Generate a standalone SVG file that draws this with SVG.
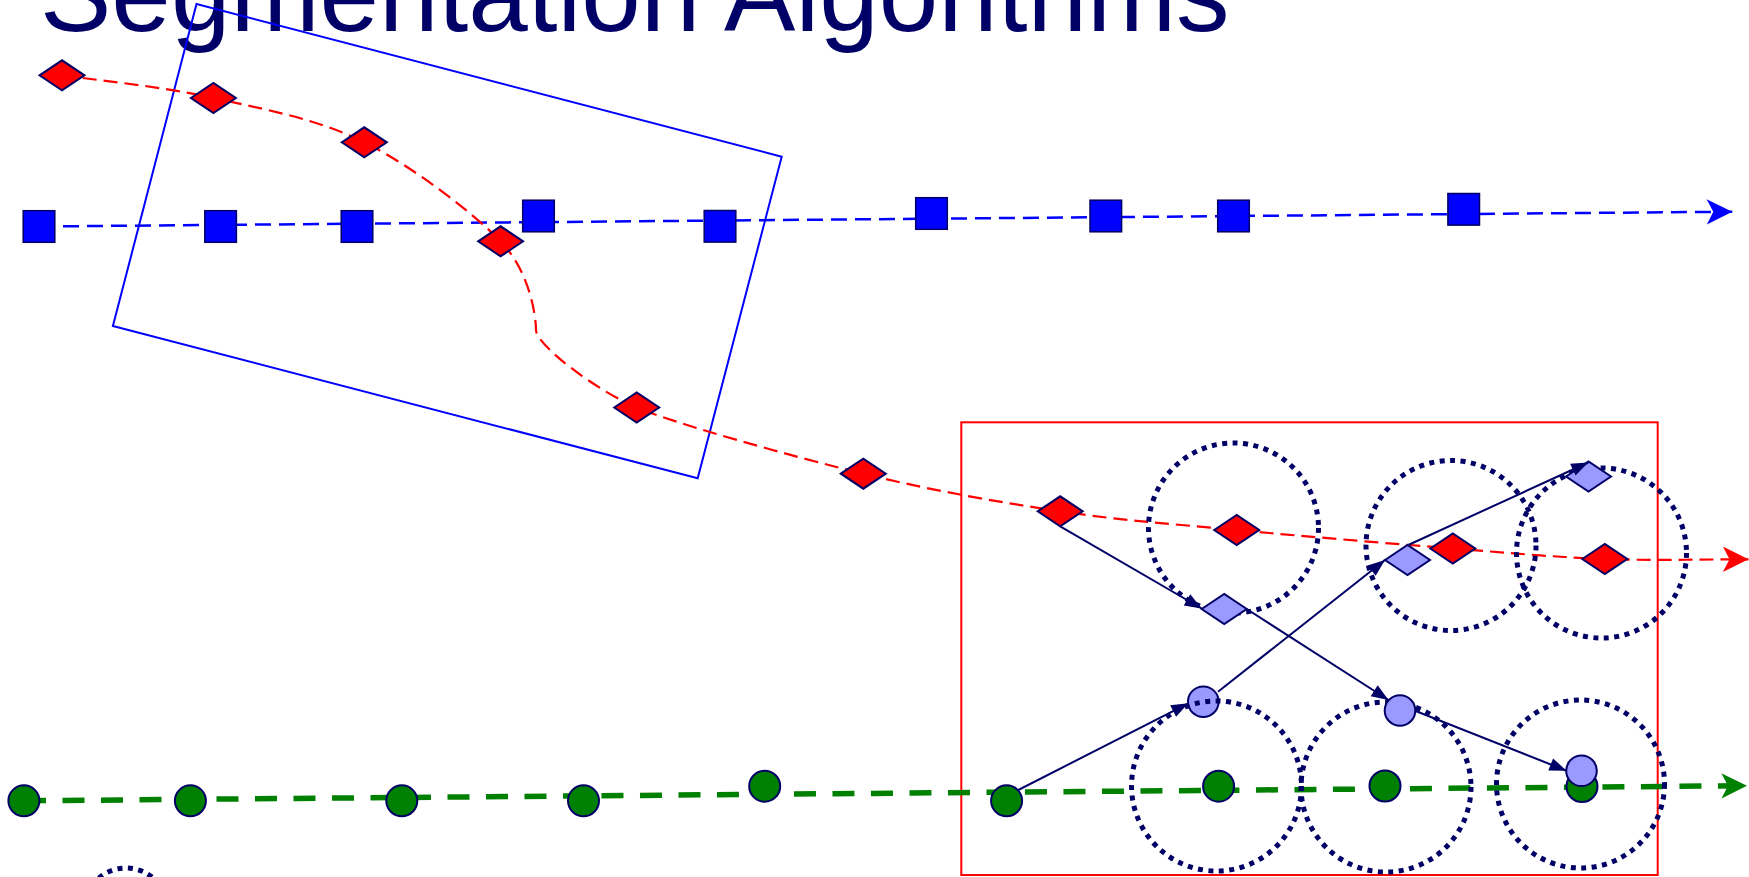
<svg xmlns="http://www.w3.org/2000/svg" width="1749" height="877" viewBox="0 0 1749 877">
<style>
.title{font-family:"Liberation Sans",Arial,sans-serif;font-size:107px;fill:#000066}
.sq{fill:#0000ff;stroke:#000066;stroke-width:1.5}
.rd{fill:#ff0000;stroke:#000066;stroke-width:2}
.ld{fill:#9999ff;stroke:#000066;stroke-width:2}
.gc{fill:#008000;stroke:#000066;stroke-width:2}
.lc{fill:#9999ff;stroke:#000066;stroke-width:2}
.dot{fill:none;stroke:#000066;stroke-width:5;stroke-dasharray:5 5.5}
.conn{fill:none;stroke:#000066;stroke-width:2;marker-end:url(#nav)}
</style>
<defs>
<marker id="bh" viewBox="-27 -14 28 28" refX="0" refY="0" markerWidth="28" markerHeight="28" markerUnits="userSpaceOnUse" orient="auto"><path d="M0,0 L-25.6,-12.7 L-19,0 L-25.6,12.7 Z" fill="#0000ff"/></marker>
<marker id="rh" viewBox="-27 -14 28 28" refX="0" refY="0" markerWidth="28" markerHeight="28" markerUnits="userSpaceOnUse" orient="auto"><path d="M0,0 L-25.6,-12.7 L-19,0 L-25.6,12.7 Z" fill="#ff0000"/></marker>
<marker id="gh" viewBox="-27 -14 28 28" refX="0" refY="0" markerWidth="28" markerHeight="28" markerUnits="userSpaceOnUse" orient="auto"><path d="M0,0 L-25.6,-12.7 L-19,0 L-25.6,12.7 Z" fill="#008000"/></marker>
<marker id="nav" viewBox="-18 -8 19 16" refX="0" refY="0" markerWidth="19" markerHeight="16" markerUnits="userSpaceOnUse" orient="auto"><path d="M0,0 L-17,-6.5 L-17,6.5 Z" fill="#000066"/></marker>
</defs>
<rect width="1749" height="877" fill="#ffffff"/>
<text class="title" x="40" y="31">Segmentation Algorithms</text>
<g id="regions">
<polygon id="blue-box" points="196.5,4 781.7,156.7 697.7,478.3 112.9,326" fill="none" stroke="#0000ff" stroke-width="2"/>
<rect id="red-box" x="961.3" y="422.3" width="696.4" height="452.7" fill="none" stroke="#ff0000" stroke-width="2"/>
</g>
<g id="connectors">
<path id="blue-track" d="M39,226.5 L1732.3,211.7" fill="none" stroke="#0000ff" stroke-width="2.5" stroke-dasharray="16 8" marker-end="url(#bh)"/>
<path id="red-track" d="M62,75.3 C112,82 163,86.8 213.4,98 C263.7,109.2 316.4,118.5 364.3,142.3 C412.2,166.1 472.1,212 500.6,241.3 C529.1,270.6 536,315 536,330 C536,345 596.7,390.8 636.7,407.5 C676.7,424.2 792.4,456.4 863.3,473.7 C933.9,491 998,501.9 1060.2,511.3 C1122.4,520.7 1171.3,523.8 1236.7,530 C1302.1,536.2 1391.5,543.7 1452.8,548.5 C1514.1,553.3 1555.5,557.2 1604.8,559 C1654,560.8 1700,559.3 1748.5,559.3" fill="none" stroke="#ff0000" stroke-width="2.2" stroke-dasharray="14 7" marker-end="url(#rh)"/>
<path id="green-track" d="M24,800.8 L1747,785.7" fill="none" stroke="#008000" stroke-width="5.5" stroke-dasharray="22 16.5" marker-end="url(#gh)"/>
</g>
<g id="c1"><circle class="dot" cx="1233.5" cy="528" r="85"/></g>
<g id="c2"><circle class="dot" cx="1451" cy="545.5" r="85"/></g>
<g id="c3"><circle class="dot" cx="1601.5" cy="553" r="85"/></g>
<g id="c5"><circle class="dot" cx="1386" cy="787" r="85"/></g>
<g id="c6"><circle class="dot" cx="1580.5" cy="784" r="84"/></g>
<g id="c7"><circle class="dot" cx="126" cy="910" r="42"/></g>
<g id="s1"><rect class="sq" x="23.2" y="210.7" width="31.6" height="31.6"/></g>
<g id="s2"><rect class="sq" x="204.8" y="210.7" width="31.6" height="31.6"/></g>
<g id="s3"><rect class="sq" x="341.2" y="210.7" width="31.6" height="31.6"/></g>
<g id="s4"><rect class="sq" x="522.7" y="200.2" width="31.6" height="31.6"/></g>
<g id="s5"><rect class="sq" x="704.2" y="210.5" width="31.6" height="31.6"/></g>
<g id="s6"><rect class="sq" x="915.7" y="197.7" width="31.6" height="31.6"/></g>
<g id="s7"><rect class="sq" x="1090" y="200.2" width="31.6" height="31.6"/></g>
<g id="s8"><rect class="sq" x="1217.7" y="200.2" width="31.6" height="31.6"/></g>
<g id="s9"><rect class="sq" x="1447.9" y="193.5" width="31.6" height="31.6"/></g>
<g id="d1"><path class="rd" d="M39.5,75.3 L62,60.3 L84.5,75.3 L62,90.3 Z"/></g>
<g id="d2"><path class="rd" d="M190.9,98 L213.4,83 L235.9,98 L213.4,113 Z"/></g>
<g id="d3"><path class="rd" d="M341.8,142.3 L364.3,127.3 L386.8,142.3 L364.3,157.3 Z"/></g>
<g id="d4"><path class="rd" d="M478.1,241.3 L500.6,226.3 L523.1,241.3 L500.6,256.3 Z"/></g>
<g id="d5"><path class="rd" d="M614.2,407.5 L636.7,392.5 L659.2,407.5 L636.7,422.5 Z"/></g>
<g id="d6"><path class="rd" d="M840.8,473.7 L863.3,458.7 L885.8,473.7 L863.3,488.7 Z"/></g>
<g id="d7"><path class="rd" d="M1037.7,511.3 L1060.2,496.3 L1082.7,511.3 L1060.2,526.3 Z"/></g>
<g id="d8"><path class="rd" d="M1214.2,530 L1236.7,515 L1259.2,530 L1236.7,545 Z"/></g>
<g id="d9"><path class="rd" d="M1430.3,548.5 L1452.8,533.5 L1475.3,548.5 L1452.8,563.5 Z"/></g>
<g id="d10"><path class="rd" d="M1582.3,559 L1604.8,544 L1627.3,559 L1604.8,574 Z"/></g>
<g id="ld1"><path class="ld" d="M1201.7,609 L1224.2,594 L1246.7,609 L1224.2,624 Z"/></g>
<g id="ld2"><path class="ld" d="M1385,560 L1407.5,545 L1430,560 L1407.5,575 Z"/></g>
<g id="ld3"><path class="ld" d="M1566,476.5 L1588.5,461.5 L1611,476.5 L1588.5,491.5 Z"/></g>
<g id="g1"><circle class="gc" cx="23.9" cy="800.8" r="15.5"/></g>
<g id="g2"><circle class="gc" cx="190.4" cy="800.8" r="15.5"/></g>
<g id="g3"><circle class="gc" cx="401.8" cy="800.8" r="15.5"/></g>
<g id="g4"><circle class="gc" cx="583.5" cy="800.8" r="15.5"/></g>
<g id="g5"><circle class="gc" cx="764.7" cy="786.2" r="15.5"/></g>
<g id="g6"><circle class="gc" cx="1006.6" cy="800.8" r="15.5"/></g>
<g id="g7"><circle class="gc" cx="1218.6" cy="786.2" r="15.5"/></g>
<g id="g8"><circle class="gc" cx="1385" cy="786" r="15.5"/></g>
<g id="g9"><circle class="gc" cx="1582" cy="786.5" r="15.5"/></g>
<g id="lc1"><circle class="lc" cx="1203.3" cy="701.7" r="15.3"/></g>
<g id="lc2"><circle class="lc" cx="1400" cy="710.5" r="15.3"/></g>
<g id="lc3"><circle class="lc" cx="1581.5" cy="770.8" r="15.3"/></g>
<g id="c4"><circle class="dot" cx="1216.5" cy="786" r="85"/></g>
<g id="arrows">
<path class="conn" d="M1060.2,526.3 L1201.7,608.5"/>
<path class="conn" d="M1246.7,609 L1388.5,700"/>
<path class="conn" d="M1018.3,790 L1188.3,703.3"/>
<path class="conn" d="M1218,691.7 L1385,560"/>
<path class="conn" d="M1408.3,545 L1588.3,462.5"/>
<path class="conn" d="M1415,710.7 L1566.5,770.7"/>
</g>
</svg>
